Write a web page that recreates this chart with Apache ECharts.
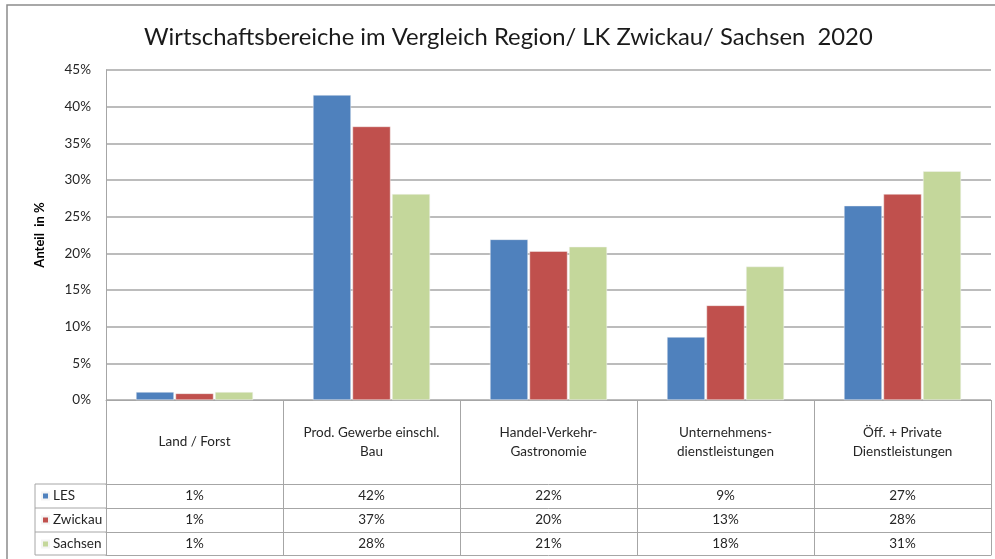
<!DOCTYPE html>
<html>
<head>
<meta charset="utf-8">
<script src="https://cdn.jsdelivr.net/npm/echarts@6/dist/echarts.min.js"></script>
<style>
    html, body { margin: 0; padding: 0; background: #fff; }
    #chart { width: 995px; height: 559px; }
</style>
</head>
<body>
<div id="chart"></div>
<script>
    // Daten (Anteil in %)
    const categories = [
        'Land / Forst',
        'Prod. Gewerbe einschl.\nBau',
        'Handel-Verkehr-\nGastronomie',
        'Unternehmens-\ndienstleistungen',
        'Öff. + Private\nDienstleistungen'
    ];
    const seriesNames = ['LES', 'Zwickau', 'Sachsen'];
    const les = [1.1, 41.6, 21.9, 8.6, 26.5];
    const zwickau = [0.9, 37.3, 20.3, 12.9, 28.1];
    const sachsen = [1.1, 28.1, 20.9, 18.2, 31.2];
    const yTicks = [0, 5, 10, 15, 20, 25, 30, 35, 40, 45];

    const font = 'Lato, "Liberation Sans", sans-serif';
    const lineColor = '#a6a6a6';
    const textColor = '#262626';
    const colors = ['#4f81bd', '#c0504d', '#c4d79b'];
    const fs = 13.5;

    // Tabellenzeile unter dem Diagramm als eigene x-Achse
    function rowAxis(offset, values) {
        return {
            type: 'category',
            data: categories,
            position: 'bottom',
            offset: offset,
            axisLine: { show: true, onZero: false, lineStyle: { color: lineColor } },
            axisTick: { show: false },
            axisLabel: {
                interval: 0,
                margin: 12,
                verticalAlign: 'middle',
                fontFamily: font,
                fontSize: fs,
                color: textColor,
                formatter: (v, i) => Math.round(values[i]) + '%'
            }
        };
    }

    let myChart = echarts.init(document.getElementById('chart'));
    let option = {
        animation: false,
        color: colors,
        title: {
            text: 'Wirtschaftsbereiche im Vergleich Region/ LK Zwickau/ Sachsen  2020',
            left: 139,
            top: 20,
            textStyle: { fontFamily: font, fontSize: 23.8, fontWeight: 'normal', color: '#1a1a1a' }
        },
        legend: {
            orient: 'vertical',
            left: 41,
            top: 489,
            padding: 0,
            itemGap: 10,
            itemWidth: 7,
            itemHeight: 7,
            icon: 'rect',
            textStyle: { fontFamily: font, fontSize: fs, color: textColor, lineHeight: 14, padding: [0, 0, 0, -1] },
            data: seriesNames
        },
        grid: { left: 106, right: 4, top: 70, bottom: 159 },
        xAxis: [
            {
                type: 'category',
                data: categories,
                axisLine: { show: true, onZero: false, lineStyle: { color: lineColor } },
                axisTick: { show: true, length: 155, lineStyle: { color: lineColor } },
                axisLabel: {
                    interval: 0,
                    margin: 42,
                    verticalAlign: 'middle',
                    lineHeight: 19,
                    fontFamily: font,
                    fontSize: fs,
                    color: textColor
                }
            },
            rowAxis(84, les),
            rowAxis(108, zwickau),
            rowAxis(132, sachsen),
            {
                type: 'category',
                data: categories,
                position: 'bottom',
                offset: 155,
                axisLine: { show: true, onZero: false, lineStyle: { color: lineColor } },
                axisTick: { show: false },
                axisLabel: { show: false }
            }
        ],
        yAxis: {
            type: 'value',
            min: yTicks[0],
            max: yTicks[yTicks.length - 1],
            interval: 5,
            name: 'Anteil  in %',
            nameLocation: 'middle',
            nameRotate: 90,
            nameGap: 60,
            nameTextStyle: { fontFamily: font, fontSize: 13, fontWeight: 'bold', color: '#000' },
            axisLine: { show: true, lineStyle: { color: lineColor } },
            axisTick: { show: false },
            axisLabel: {
                margin: 15,
                fontFamily: font,
                fontSize: fs,
                color: textColor,
                formatter: '{value}%'
            },
            splitLine: { lineStyle: { color: lineColor, width: 1.5 } }
        },
        series: [les, zwickau, sachsen].map((d, i) => ({
            name: seriesNames[i],
            type: 'bar',
            data: d,
            barWidth: 38,
            barGap: '4%',
            itemStyle: { borderColor: '#f4f4f4', borderWidth: 0.5 }
        })),
        graphic: [
            // Rahmen (rechts/unten ausserhalb des Bildes)
            { type: 'rect', shape: { x: 7, y: 5, width: 1000, height: 560 }, style: { fill: 'none', stroke: '#8c8c8c', lineWidth: 1.5 } },
            // Legendenspalte der Datentabelle
            { type: 'line', shape: { x1: 35, y1: 484, x2: 106, y2: 484 }, style: { stroke: lineColor } },
            { type: 'line', shape: { x1: 35, y1: 508, x2: 106, y2: 508 }, style: { stroke: lineColor } },
            { type: 'line', shape: { x1: 35, y1: 532, x2: 106, y2: 532 }, style: { stroke: lineColor } },
            { type: 'line', shape: { x1: 35, y1: 555, x2: 106, y2: 555 }, style: { stroke: lineColor } },
            { type: 'line', shape: { x1: 35, y1: 484, x2: 35, y2: 555 }, style: { stroke: lineColor } }
        ]
    };
    myChart.setOption(option);
</script>
</body>
</html>
